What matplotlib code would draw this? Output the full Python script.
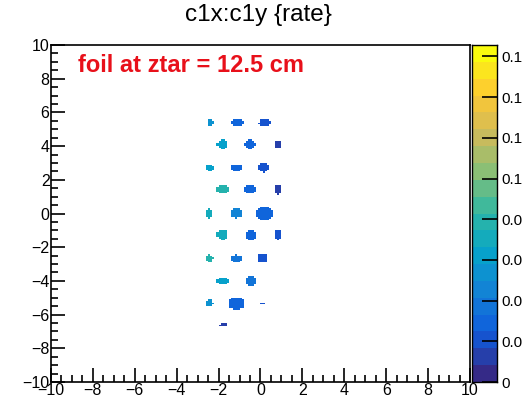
import numpy as np
import matplotlib
matplotlib.use("Agg")
import matplotlib.pyplot as plt
from matplotlib.colors import LinearSegmentedColormap, BoundaryNorm

plt.rcParams['font.family'] = ['Liberation Sans', 'DejaVu Sans']

# spot centres (c1x, c1y), rate and half sizes of each spot
dot_x = [-2.38, -1.09, 0.21,
         -1.82, -0.50, 0.85,
         -2.42, -1.15, 0.15,
         -1.82, -0.50, 0.85,
         -2.45, -1.15, 0.21,
         -1.82, -0.45, 0.85,
         -2.42, -1.15, 0.10,
         -1.82, -0.45,
         -2.42, -1.15, 0.10,
         -1.77]
dot_y = [5.39, 5.39, 5.39,
         4.10, 4.10, 4.10,
         2.72, 2.72, 2.72,
         1.44, 1.44, 1.44,
         0.01, 0.01, 0.01,
         -1.28, -1.28, -1.28,
         -2.66, -2.66, -2.66,
         -4.00, -4.00,
         -5.33, -5.33, -5.33,
         -6.62]
dot_rate = [0.050, 0.025, 0.022,
            0.060, 0.030, 0.015,
            0.065, 0.032, 0.018,
            0.075, 0.030, 0.015,
            0.070, 0.045, 0.025,
            0.070, 0.030, 0.018,
            0.075, 0.040, 0.020,
            0.060, 0.035,
            0.050, 0.030, 0.020,
            0.012]
dot_wx = [0.17, 0.30, 0.27,
          0.27, 0.30, 0.14,
          0.18, 0.30, 0.24,
          0.30, 0.30, 0.17,
          0.18, 0.27, 0.40,
          0.27, 0.28, 0.17,
          0.18, 0.30, 0.24,
          0.30, 0.28,
          0.18, 0.40, 0.08,
          0.22]
dot_wy = [0.18, 0.22, 0.22,
          0.27, 0.27, 0.22,
          0.22, 0.22, 0.27,
          0.27, 0.27, 0.30,
          0.27, 0.27, 0.40,
          0.30, 0.30, 0.30,
          0.22, 0.22, 0.27,
          0.22, 0.27,
          0.22, 0.36, 0.08,
          0.12]

zmax = 0.1656
cbar_ticks = [0, 0.02, 0.04, 0.06, 0.08, 0.10, 0.12, 0.14, 0.16]
cbar_labels = ['0', '0.0', '0.0', '0.0', '0.0', '0.1', '0.1', '0.1', '0.1']

# ROOT kBird palette
bird_r = [0.2082, 0.0592, 0.0780, 0.0232, 0.1802, 0.5301, 0.8186, 0.9956, 0.9764]
bird_g = [0.1664, 0.3599, 0.5041, 0.6419, 0.7178, 0.7492, 0.7328, 0.7862, 0.9832]
bird_b = [0.5293, 0.8684, 0.8385, 0.7914, 0.6425, 0.4662, 0.3499, 0.1968, 0.0539]
bird = LinearSegmentedColormap.from_list("bird", list(zip(bird_r, bird_g, bird_b)))
levels = np.linspace(0, zmax, 21)
norm = BoundaryNorm(levels, bird.N)

# 2D histogram, 200 x 200 bins over [-10, 10]
edges = np.linspace(-10, 10, 201)
centers = 0.5 * (edges[:-1] + edges[1:])
X, Y = np.meshgrid(centers, centers)
H = np.zeros_like(X)
for x0, y0, r, wx, wy in zip(dot_x, dot_y, dot_rate, dot_wx, dot_wy):
    inside = ((X - x0) / wx) ** 2 + ((Y - y0) / wy) ** 2 <= 1.0
    H[inside] = r
H = np.ma.masked_where(H <= 0, H)

fig = plt.figure(figsize=(5.3, 3.99), dpi=100)
ax = fig.add_axes([0.0962, 0.0426, 0.7906, 0.8446])
cax = fig.add_axes([0.8906, 0.0426, 0.0471, 0.8446])

ax.pcolormesh(edges, edges, H, cmap=bird, norm=norm)
ax.set_xlim(-10, 10)
ax.set_ylim(-10, 10)
ax.set_xticks(np.arange(-10, 11, 2))
ax.set_yticks(np.arange(-10, 11, 2))
ax.set_xticks(np.arange(-10, 10.01, 0.5), minor=True)
ax.set_yticks(np.arange(-10, 10.01, 0.5), minor=True)
ax.tick_params(which='both', direction='in', top=False, right=False,
               labelsize=11.5, width=1.2, pad=1)
ax.tick_params(which='major', length=10)
ax.tick_params(which='minor', length=5)
for s in ax.spines.values():
    s.set_linewidth(1.2)

ax.text(-8.71, 8.81, "foil at ztar = 12.5 cm", color='#e8101a', fontsize=17,
        fontweight='bold', va='center', ha='left')
fig.text(0.488, 0.962, "c1x:c1y {rate}", ha='center', va='center', fontsize=17.5)

# colour bar with discrete bands
band = np.linspace(0, zmax, 2000).reshape(-1, 1)
cax.pcolormesh([0, 1], np.linspace(0, zmax, 2001), band, cmap=bird, norm=norm)
cax.set_xlim(0, 1)
cax.set_ylim(0, zmax)
cax.set_xticks([])
cax.yaxis.tick_right()
cax.set_yticks(cbar_ticks)
cax.set_yticklabels(cbar_labels)
cax.tick_params(axis='y', direction='in', length=11, width=1.2, labelsize=11, pad=3)
for s in cax.spines.values():
    s.set_linewidth(1.0)

fig.savefig("out.png", dpi=100)
